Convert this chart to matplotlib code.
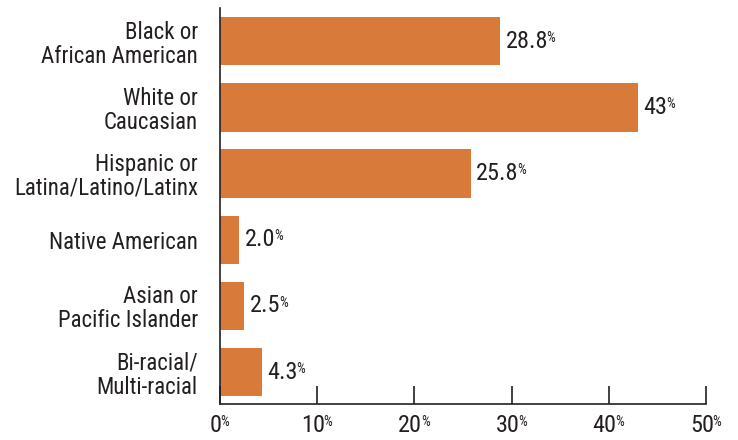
import matplotlib.pyplot as plt
from matplotlib import font_manager
from matplotlib.transforms import offset_copy

categories = ['Black or\nAfrican American', 'White or\nCaucasian',
              'Hispanic or\nLatina/Latino/Latinx', 'Native American',
              'Asian or\nPacific Islander', 'Bi-racial/\nMulti-racial']
values = [28.8, 43, 25.8, 2.0, 2.5, 4.3]
value_labels = ['28.8', '43', '25.8', '2.0', '2.5', '4.3']
xticks = [0, 10, 20, 30, 40, 50]

installed = {f.name for f in font_manager.fontManager.ttflist}
fam = 'DejaVu Sans'
for cand in ['Roboto Condensed', 'Liberation Sans Narrow', 'Roboto']:
    if cand in installed:
        fam = cand
        break
plt.rcParams['font.family'] = [fam, 'DejaVu Sans']
ink = '#231f20'

fig = plt.figure(figsize=(7.38, 4.40), dpi=100)
ax = fig.add_axes([220/738, 1-404/440, 486/738, 396/440])

y = range(len(values))
ax.barh(y, values, height=0.73, color='#d87b3a')
ax.set_xlim(0, 50)
ax.set_ylim(5.48, -0.5)

for s in ['top', 'right']:
    ax.spines[s].set_visible(False)
for s in ['left', 'bottom']:
    ax.spines[s].set_color(ink)
    ax.spines[s].set_linewidth(1.2)

ax.set_yticks(list(y))
ax.set_yticklabels(categories, fontsize=16.5, color=ink, linespacing=1.05,
                   fontweight='normal')
ax.tick_params(axis='y', length=0, pad=16)

ax.set_xticks(xticks)
ax.set_xticklabels([])
ax.tick_params(axis='x', direction='in', length=13, width=1.2, color=ink)

for xv in xticks:
    t = ax.text(xv, 5.48, str(xv), fontsize=17.5, color=ink, ha='center', va='top',
                transform=offset_copy(ax.transData, fig=fig, x=-3, y=-7, units='points'))
    ax.annotate('%', xy=(1, 0.95), xycoords=t, xytext=(-1, 0),
                textcoords='offset points', fontsize=10, color=ink,
                ha='left', va='top')

for i, (v, lab) in enumerate(zip(values, value_labels)):
    t = ax.annotate(lab, xy=(v, i), xytext=(4, 0), textcoords='offset points',
                    fontsize=17.5, color=ink, ha='left', va='center')
    ax.annotate('%', xy=(1, 0.95), xycoords=t, xytext=(-1, 0),
                textcoords='offset points', fontsize=10, color=ink,
                ha='left', va='top')

fig.savefig('out.png', dpi=100)
